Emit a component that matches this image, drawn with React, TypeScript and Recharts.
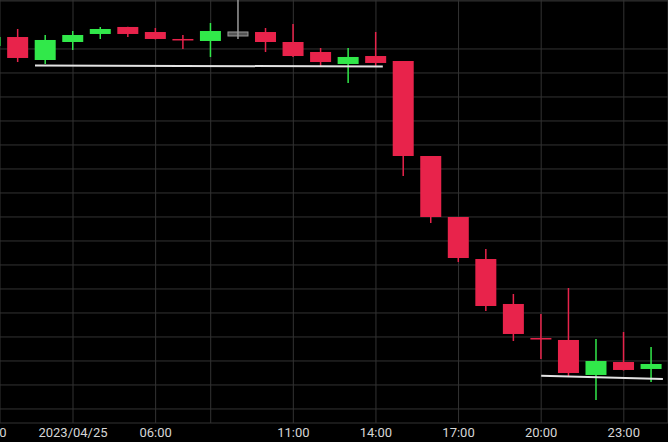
import { Bar, CartesianGrid, ComposedChart, ReferenceLine, XAxis, YAxis } from "recharts";

// hourly candles, 2023/04/25
const hours = [0, 1, 2, 3, 4, 5, 6, 7, 8, 9, 10, 11, 12, 13, 14, 15, 16, 17, 18, 19, 20, 21, 22, 23, 24];
const opens = [
  107.562, 107.749, 107.27, 107.645, 107.812, 107.958, 107.853, 107.708, 107.666, 107.812, 107.853, 107.645, 107.437,
  107.187, 107.353, 107.249, 105.27, 103.999, 103.124, 102.187, 101.478, 101.437, 100.708, 100.978, 100.833,
];
const highs = [
  107.833, 107.916, 107.791, 107.874, 107.958, 107.965, 107.937, 107.791, 108.041, 109.145, 107.937, 108.02, 107.52,
  107.52, 107.853, 107.249, 105.27, 103.999, 103.333, 102.395, 101.978, 102.52, 101.458, 101.603, 101.291,
];
const lows = [
  107.478, 107.228, 107.187, 107.478, 107.708, 107.749, 107.7, 107.499, 107.333, 107.708, 107.437, 107.333, 107.124,
  106.791, 107.124, 104.853, 103.874, 103.062, 102.041, 101.416, 101.041, 100.687, 100.187, 100.8, 100.562,
];
const closes = [
  107.749, 107.312, 107.687, 107.791, 107.916, 107.812, 107.708, 107.7, 107.874, 107.812, 107.645, 107.353, 107.228,
  107.333, 107.208, 105.27, 103.999, 103.145, 102.145, 101.562, 101.47, 100.749, 100.999, 100.812, 100.937,
];

const xTicks = [0, 3, 6, 8, 11, 14, 17, 20, 23];
const xTickLabels = ["00:00", "2023/04/25", "06:00", "", "11:00", "14:00", "17:00", "20:00", "23:00"];
const yTicks = [100, 100.5, 101, 101.5, 102, 102.5, 103, 103.5, 104, 104.5, 105, 105.5, 106, 106.5, 107, 107.5, 108, 108.5];

// support lines (hour, price)
const supportTop = [
  { x: 1.62, y: 107.155 },
  { x: 14.25, y: 107.135 },
];
const supportBottom = [
  { x: 20, y: 100.693 },
  { x: 24.42, y: 100.624 },
];

const RED = "#e8234b";
const GREEN = "#31e84a";
const GRAY = "#9a9a9a";

const data = hours.map((t, i) => ({
  t,
  open: opens[i],
  high: highs[i],
  low: lows[i],
  close: closes[i],
}));

function Candle(props: any) {
  const { x, y, width, height, payload } = props;
  if (x == null || !payload) return null;
  const { open, close, high, low } = payload;
  const top = Math.min(y, y + height);
  const k = high > low ? Math.abs(height) / (high - low) : 0;
  const py = (p: number) => top + (high - p) * k;
  const cx = x + width / 2;

  if (open === close) {
    const mid = py(open);
    return (
      <g>
        <rect x={x + 0.5} y={mid - 2} width={width - 1} height={4} fill="#555" stroke={GRAY} strokeWidth={1} />
        <line x1={cx} x2={cx} y1={py(high)} y2={py(low)} stroke={GRAY} strokeWidth={1.5} />
      </g>
    );
  }

  const color = close > open ? GREEN : RED;
  const bTop = py(Math.max(open, close));
  const bBottom = py(Math.min(open, close));
  const h = Math.max(bBottom - bTop, 1.5);
  return (
    <g>
      <line x1={cx} x2={cx} y1={py(high)} y2={py(low)} stroke={color} strokeWidth={1.5} />
      <rect x={x} y={bTop} width={width} height={h} fill={color} />
    </g>
  );
}

export default function App() {
  return (
    <div style={{ position: "absolute", left: 0, top: 0, width: 668, height: 442, background: "#000" }}>
      <ComposedChart width={668} height={442} data={data} margin={{ top: 0, right: 0, bottom: 0, left: 0 }}>
        <CartesianGrid stroke="#333" />
        <XAxis
          dataKey="t"
          type="number"
          domain={[0.349, 24.605]}
          allowDataOverflow
          ticks={xTicks}
          interval={0}
          tickFormatter={(v: number) => xTickLabels[xTicks.indexOf(v)] ?? ""}
          height={19}
          tickSize={0}
          tickMargin={5}
          axisLine={false}
          tickLine={false}
          tick={{ fill: "#d6d6d6", fontSize: 13, fontFamily: "Roboto" }}
        />
        <YAxis hide type="number" domain={[99.7075, 108.52]} allowDataOverflow ticks={yTicks} />
        <Bar
          dataKey={(d: any) => [d.low, d.high]}
          barSize={21}
          shape={<Candle />}
          isAnimationActive={false}
        />
        <ReferenceLine segment={supportTop} stroke="#e4e4e4" strokeWidth={2} />
        <ReferenceLine segment={supportBottom} stroke="#e4e4e4" strokeWidth={2} />
      </ComposedChart>
    </div>
  );
}
